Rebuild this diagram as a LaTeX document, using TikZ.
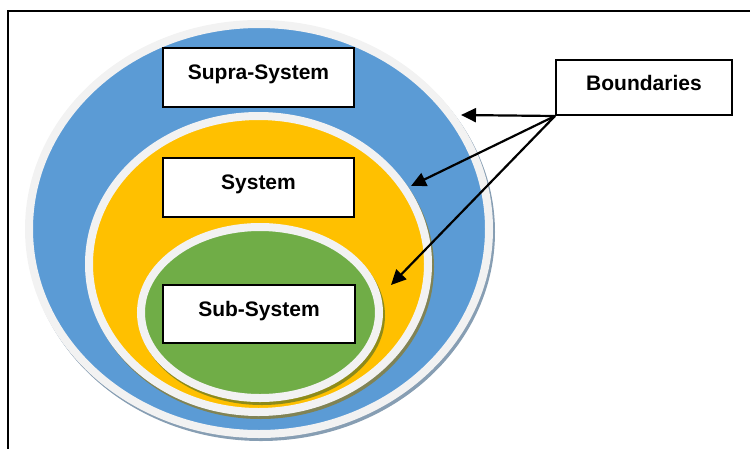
\documentclass[tikz,border=0pt]{standalone}
\usepackage{fontspec}
\setmainfont{Liberation Sans}
\usetikzlibrary{arrows.meta}
\definecolor{ringgray}{HTML}{F2F2F2}
\definecolor{supblue}{HTML}{5B9BD5}
\definecolor{sysyellow}{HTML}{FFC000}
\definecolor{subgreen}{HTML}{70AD47}
\begin{document}
\begin{tikzpicture}[x=1pt,y=-1pt,
  ring/.style={draw=ringgray,line width=8pt},
  lbl/.style={draw=black,line width=2pt,fill=white,inner sep=0pt},
  txt/.style={font=\fontsize{21}{25}\selectfont\bfseries,anchor=base,inner sep=0pt},
  arr/.style={line width=2.2pt,-{Triangle[length=15pt,width=14pt]}}]
\useasboundingbox (0,0) rectangle (750,448);
\draw[line width=1.5pt] (8,470) -- (8,11) -- (770,11);
% outer (supra-system)
\fill[supblue!60!black,opacity=0.6] (261,232) ellipse [x radius=234pt, y radius=209pt];
\path[ring,fill=supblue] (259,229) ellipse [x radius=230pt, y radius=205pt];
% system
\fill[sysyellow!60!black,opacity=0.6] (260.5,267) ellipse [x radius=173.5pt, y radius=152pt];
\path[ring,fill=sysyellow] (258.5,264) ellipse [x radius=169.5pt, y radius=148pt];
% sub-system
\fill[subgreen!60!black,opacity=0.6] (262,315.5) ellipse [x radius=123pt, y radius=89.5pt];
\path[ring,fill=subgreen] (260,312.5) ellipse [x radius=119pt, y radius=85.5pt];
% label boxes
\node[lbl,minimum width=191pt,minimum height=59pt] (supra) at (258.5,77.5) {};
\node[txt] (supratxt) at (258.5,79.5) {Supra-System};
\node[lbl,minimum width=191pt,minimum height=59pt] (sys) at (258.5,187.5) {};
\node[txt] (systxt) at (258.5,189) {System};
\node[lbl,minimum width=192pt,minimum height=58pt] (sub) at (259,314) {};
\node[txt] (subtxt) at (259,316) {Sub-System};
\node[lbl,minimum width=176pt,minimum height=55pt] (bnd) at (644,87.5) {};
\node[txt] (bndtxt) at (644,90.7) {Boundaries};
% arrows
\coordinate (t1) at (461,115);
\coordinate (t2) at (411,186);
\coordinate (t3) at (391,285);
\draw[arr] (bnd.south west) -- (t1);
\draw[arr] (bnd.south west) -- (t2);
\draw[arr] (bnd.south west) -- (t3);
\end{tikzpicture}
\end{document}
